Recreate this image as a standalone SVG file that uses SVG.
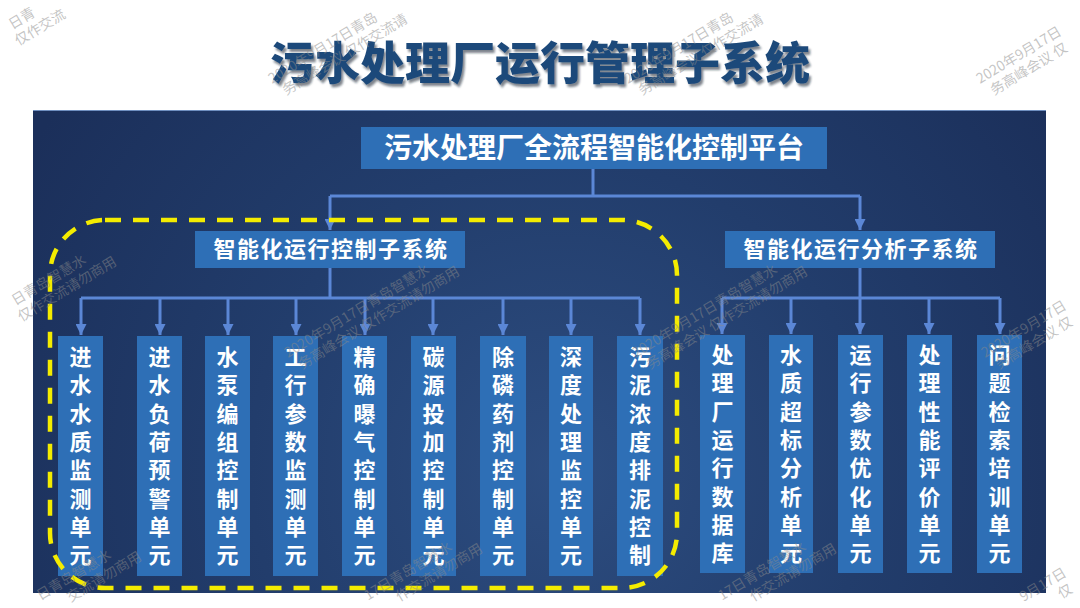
<svg xmlns="http://www.w3.org/2000/svg" width="1080" height="608" viewBox="0 0 1080 608">
<defs>
<radialGradient id="bg" cx="560" cy="470" r="620" gradientUnits="userSpaceOnUse">
<stop offset="0" stop-color="#2d4d80"/>
<stop offset="0.5" stop-color="#223d6c"/>
<stop offset="1" stop-color="#1b2f5a"/>
</radialGradient>
<marker id="ah" markerUnits="userSpaceOnUse" markerWidth="11" markerHeight="11" refX="10" refY="5" orient="auto" viewBox="0 0 10 10">
<path d="M0,0 L10,5 L0,10 Z" fill="#5b87d6"/>
</marker>
<filter id="sh" x="-5%" y="-20%" width="110%" height="140%">
<feDropShadow dx="2" dy="3" stdDeviation="1.2" flood-color="#0a1a33" flood-opacity="0.55"/>
</filter>
</defs>
<style>
.title{font-family:"Noto Sans CJK SC","Noto Sans",sans-serif;font-weight:900;font-size:45px;fill:#1f4a7a;}
.box{fill:#2e6fb6;}
.t1{font-family:"Noto Sans CJK SC","Noto Sans",sans-serif;font-weight:700;font-size:28px;fill:#ffffff;}
.t2{font-family:"Noto Sans CJK SC","Noto Sans",sans-serif;font-weight:700;font-size:22px;fill:#ffffff;letter-spacing:1.5px;}
.tc{font-family:"Liberation Sans","Noto Sans CJK SC",sans-serif;font-weight:700;font-size:22px;fill:#ffffff;}
.ln{stroke:#5b87d6;stroke-width:3;fill:none;}
.wm{font-family:"Noto Sans CJK SC","Noto Sans",sans-serif;font-size:14px;fill:#8a8a8a;fill-opacity:0.5;}
</style>
<rect x="0" y="0" width="1080" height="608" fill="#ffffff"/>
<text class="title" x="540" y="80" text-anchor="middle" filter="url(#sh)">污水处理厂运行管理子系统</text>
<rect x="33" y="110" width="1013" height="483" fill="url(#bg)"/>
<line x1="33" y1="110.5" x2="1046" y2="110.5" stroke="#6f8fc0" stroke-width="1"/>

<g id="connectors">
<polyline class="ln" points="593,169 593,196"/>
<polyline class="ln" points="330,196 860,196"/>
<line class="ln" x1="330" y1="196" x2="330" y2="230" marker-end="url(#ah)"/>
<line class="ln" x1="860" y1="196" x2="860" y2="230" marker-end="url(#ah)"/>
<line class="ln" x1="330" y1="268" x2="330" y2="298"/>
<line class="ln" x1="81" y1="298" x2="640" y2="298"/>
<line class="ln" x1="860" y1="268" x2="860" y2="298"/>
<line class="ln" x1="722" y1="298" x2="1000" y2="298"/>
<line class="ln" x1="81" y1="298" x2="81" y2="335" marker-end="url(#ah)"/>
<line class="ln" x1="160" y1="298" x2="160" y2="335" marker-end="url(#ah)"/>
<line class="ln" x1="228" y1="298" x2="228" y2="335" marker-end="url(#ah)"/>
<line class="ln" x1="296" y1="298" x2="296" y2="335" marker-end="url(#ah)"/>
<line class="ln" x1="365" y1="298" x2="365" y2="335" marker-end="url(#ah)"/>
<line class="ln" x1="433" y1="298" x2="433" y2="335" marker-end="url(#ah)"/>
<line class="ln" x1="503" y1="298" x2="503" y2="335" marker-end="url(#ah)"/>
<line class="ln" x1="571" y1="298" x2="571" y2="335" marker-end="url(#ah)"/>
<line class="ln" x1="640" y1="298" x2="640" y2="335" marker-end="url(#ah)"/>
<line class="ln" x1="722" y1="298" x2="722" y2="334" marker-end="url(#ah)"/>
<line class="ln" x1="791" y1="298" x2="791" y2="334" marker-end="url(#ah)"/>
<line class="ln" x1="860" y1="298" x2="860" y2="334" marker-end="url(#ah)"/>
<line class="ln" x1="929" y1="298" x2="929" y2="334" marker-end="url(#ah)"/>
<line class="ln" x1="1000" y1="298" x2="1000" y2="334" marker-end="url(#ah)"/>
</g>

<g id="platform">
<rect class="box" x="361" y="127" width="466" height="42"/>
<text class="t1" x="594" y="158" text-anchor="middle">污水处理厂全流程智能化控制平台</text>
</g>
<g id="control-subsystem">
<rect class="box" x="195" y="231" width="270" height="37"/>
<text class="t2" x="331" y="257" text-anchor="middle">智能化运行控制子系统</text>
</g>
<g id="analysis-subsystem">
<rect class="box" x="725" y="231" width="270" height="37"/>
<text class="t2" x="861" y="257" text-anchor="middle">智能化运行分析子系统</text>
</g>

<g id="c1"><rect class="box" x="58" y="336" width="45" height="240"/><text class="tc" text-anchor="middle"><tspan x="80.5" y="365">进</tspan><tspan x="80.5" dy="28.3">水</tspan><tspan x="80.5" dy="28.3">水</tspan><tspan x="80.5" dy="28.3">质</tspan><tspan x="80.5" dy="28.3">监</tspan><tspan x="80.5" dy="28.3">测</tspan><tspan x="80.5" dy="28.3">单</tspan><tspan x="80.5" dy="28.3">元</tspan></text></g>
<g id="c2"><rect class="box" x="137" y="336" width="45" height="240"/><text class="tc" text-anchor="middle"><tspan x="159.5" y="365">进</tspan><tspan x="159.5" dy="28.3">水</tspan><tspan x="159.5" dy="28.3">负</tspan><tspan x="159.5" dy="28.3">荷</tspan><tspan x="159.5" dy="28.3">预</tspan><tspan x="159.5" dy="28.3">警</tspan><tspan x="159.5" dy="28.3">单</tspan><tspan x="159.5" dy="28.3">元</tspan></text></g>
<g id="c3"><rect class="box" x="205" y="336" width="45" height="240"/><text class="tc" text-anchor="middle"><tspan x="227.5" y="365">水</tspan><tspan x="227.5" dy="28.3">泵</tspan><tspan x="227.5" dy="28.3">编</tspan><tspan x="227.5" dy="28.3">组</tspan><tspan x="227.5" dy="28.3">控</tspan><tspan x="227.5" dy="28.3">制</tspan><tspan x="227.5" dy="28.3">单</tspan><tspan x="227.5" dy="28.3">元</tspan></text></g>
<g id="c4"><rect class="box" x="273" y="336" width="45" height="240"/><text class="tc" text-anchor="middle"><tspan x="295.5" y="365">工</tspan><tspan x="295.5" dy="28.3">行</tspan><tspan x="295.5" dy="28.3">参</tspan><tspan x="295.5" dy="28.3">数</tspan><tspan x="295.5" dy="28.3">监</tspan><tspan x="295.5" dy="28.3">测</tspan><tspan x="295.5" dy="28.3">单</tspan><tspan x="295.5" dy="28.3">元</tspan></text></g>
<g id="c5"><rect class="box" x="342" y="336" width="45" height="240"/><text class="tc" text-anchor="middle"><tspan x="364.5" y="365">精</tspan><tspan x="364.5" dy="28.3">确</tspan><tspan x="364.5" dy="28.3">曝</tspan><tspan x="364.5" dy="28.3">气</tspan><tspan x="364.5" dy="28.3">控</tspan><tspan x="364.5" dy="28.3">制</tspan><tspan x="364.5" dy="28.3">单</tspan><tspan x="364.5" dy="28.3">元</tspan></text></g>
<g id="c6"><rect class="box" x="411" y="336" width="45" height="240"/><text class="tc" text-anchor="middle"><tspan x="433.5" y="365">碳</tspan><tspan x="433.5" dy="28.3">源</tspan><tspan x="433.5" dy="28.3">投</tspan><tspan x="433.5" dy="28.3">加</tspan><tspan x="433.5" dy="28.3">控</tspan><tspan x="433.5" dy="28.3">制</tspan><tspan x="433.5" dy="28.3">单</tspan><tspan x="433.5" dy="28.3">元</tspan></text></g>
<g id="c7"><rect class="box" x="480" y="336" width="46" height="240"/><text class="tc" text-anchor="middle"><tspan x="503" y="365">除</tspan><tspan x="503" dy="28.3">磷</tspan><tspan x="503" dy="28.3">药</tspan><tspan x="503" dy="28.3">剂</tspan><tspan x="503" dy="28.3">控</tspan><tspan x="503" dy="28.3">制</tspan><tspan x="503" dy="28.3">单</tspan><tspan x="503" dy="28.3">元</tspan></text></g>
<g id="c8"><rect class="box" x="549" y="336" width="44" height="240"/><text class="tc" text-anchor="middle"><tspan x="571" y="365">深</tspan><tspan x="571" dy="28.3">度</tspan><tspan x="571" dy="28.3">处</tspan><tspan x="571" dy="28.3">理</tspan><tspan x="571" dy="28.3">监</tspan><tspan x="571" dy="28.3">控</tspan><tspan x="571" dy="28.3">单</tspan><tspan x="571" dy="28.3">元</tspan></text></g>
<g id="c9"><rect class="box" x="617" y="336" width="46" height="240"/><text class="tc" text-anchor="middle"><tspan x="640" y="365">污</tspan><tspan x="640" dy="28.3">泥</tspan><tspan x="640" dy="28.3">浓</tspan><tspan x="640" dy="28.3">度</tspan><tspan x="640" dy="28.3">排</tspan><tspan x="640" dy="28.3">泥</tspan><tspan x="640" dy="28.3">控</tspan><tspan x="640" dy="28.3">制</tspan></text></g>

<g id="r1"><rect class="box" x="700" y="335" width="45" height="238"/><text class="tc" text-anchor="middle"><tspan x="722.5" y="363">处</tspan><tspan x="722.5" dy="28.3">理</tspan><tspan x="722.5" dy="28.3">厂</tspan><tspan x="722.5" dy="28.3">运</tspan><tspan x="722.5" dy="28.3">行</tspan><tspan x="722.5" dy="28.3">数</tspan><tspan x="722.5" dy="28.3">据</tspan><tspan x="722.5" dy="28.3">库</tspan></text></g>
<g id="r2"><rect class="box" x="769" y="335" width="44" height="238"/><text class="tc" text-anchor="middle"><tspan x="791" y="363">水</tspan><tspan x="791" dy="28.3">质</tspan><tspan x="791" dy="28.3">超</tspan><tspan x="791" dy="28.3">标</tspan><tspan x="791" dy="28.3">分</tspan><tspan x="791" dy="28.3">析</tspan><tspan x="791" dy="28.3">单</tspan><tspan x="791" dy="28.3">元</tspan></text></g>
<g id="r3"><rect class="box" x="838" y="335" width="45" height="238"/><text class="tc" text-anchor="middle"><tspan x="860.5" y="363">运</tspan><tspan x="860.5" dy="28.3">行</tspan><tspan x="860.5" dy="28.3">参</tspan><tspan x="860.5" dy="28.3">数</tspan><tspan x="860.5" dy="28.3">优</tspan><tspan x="860.5" dy="28.3">化</tspan><tspan x="860.5" dy="28.3">单</tspan><tspan x="860.5" dy="28.3">元</tspan></text></g>
<g id="r4"><rect class="box" x="907" y="335" width="45" height="238"/><text class="tc" text-anchor="middle"><tspan x="929.5" y="363">处</tspan><tspan x="929.5" dy="28.3">理</tspan><tspan x="929.5" dy="28.3">性</tspan><tspan x="929.5" dy="28.3">能</tspan><tspan x="929.5" dy="28.3">评</tspan><tspan x="929.5" dy="28.3">价</tspan><tspan x="929.5" dy="28.3">单</tspan><tspan x="929.5" dy="28.3">元</tspan></text></g>
<g id="r5"><rect class="box" x="977" y="335" width="45" height="238"/><text class="tc" text-anchor="middle"><tspan x="999.5" y="363">问</tspan><tspan x="999.5" dy="28.3">题</tspan><tspan x="999.5" dy="28.3">检</tspan><tspan x="999.5" dy="28.3">索</tspan><tspan x="999.5" dy="28.3">培</tspan><tspan x="999.5" dy="28.3">训</tspan><tspan x="999.5" dy="28.3">单</tspan><tspan x="999.5" dy="28.3">元</tspan></text></g>

<g id="highlight">
<rect x="50" y="220" width="627" height="368" rx="55" ry="55" fill="none" stroke="#f4ec00" stroke-width="4.5" stroke-dasharray="16 12"/>
</g>

<g id="watermarks">
<g transform="translate(-58,72) rotate(-31)"><text class="wm"><tspan x="81.9" y="0">日青</tspan><tspan x="79" y="17">仅作交流</tspan></text></g>
<g transform="translate(272,84) rotate(-31)"><text class="wm"><tspan x="0" y="0">2020年9月17日青岛</tspan><tspan x="6" y="17">务高峰会议 仅作交流请</tspan></text></g>
<g transform="translate(628,84) rotate(-31)"><text class="wm"><tspan x="0" y="0">2020年9月17日青岛</tspan><tspan x="6" y="17">务高峰会议 仅作交流请</tspan></text></g>
<g transform="translate(980,84) rotate(-31)"><text class="wm"><tspan x="0" y="0">2020年9月17日</tspan><tspan x="6" y="17">务高峰会议 仅</tspan></text></g>
<g transform="translate(-55,348) rotate(-31)"><text class="wm"><tspan x="81.9" y="0">日青岛智慧水</tspan><tspan x="79" y="17">仅作交流请勿商用</tspan></text></g>
<g transform="translate(288,358) rotate(-31)"><text class="wm"><tspan x="0" y="0">2020年9月17日青岛智慧水</tspan><tspan x="6" y="17">务高峰会议 仅作交流请勿商用</tspan></text></g>
<g transform="translate(636,358) rotate(-31)"><text class="wm"><tspan x="0" y="0">2020年9月17日青岛智慧水</tspan><tspan x="6" y="17">务高峰会议 仅作交流请勿商用</tspan></text></g>
<g transform="translate(985,358) rotate(-31)"><text class="wm"><tspan x="0" y="0">2020年9月17日</tspan><tspan x="6" y="17">务高峰会议 仅</tspan></text></g>
<g transform="translate(-30,643) rotate(-31)"><text class="wm"><tspan x="81.9" y="0">日青岛智慧水</tspan><tspan x="107" y="17">交流请勿商用</tspan></text></g>
<g transform="translate(311,635) rotate(-31)"><text class="wm"><tspan x="66.5" y="0">17日青岛智慧水</tspan><tspan x="93" y="17">作交流请勿商用</tspan></text></g>
<g transform="translate(665,635) rotate(-31)"><text class="wm"><tspan x="66.5" y="0">17日青岛智慧水</tspan><tspan x="93" y="17">作交流请勿商用</tspan></text></g>
<g transform="translate(985,625) rotate(-31)"><text class="wm"><tspan x="44.8" y="0">9月17日</tspan><tspan x="79" y="17">仅</tspan></text></g>
</g>
</svg>
